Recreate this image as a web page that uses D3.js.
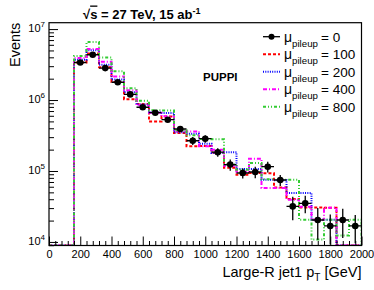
<!DOCTYPE html>
<html><head><meta charset="utf-8">
<script src="https://cdn.jsdelivr.net/npm/d3@7"></script>
<style>
body{margin:0;background:#fff}
svg{display:block}
text{font-family:"Liberation Sans",Arial,Helvetica,sans-serif;fill:#000}
</style>
</head><body>
<svg id="chart" width="374" height="290"></svg>
<script>
// ---------------- data ----------------
const binWidth = 80;
const binCenters = [200,280,360,440,520,600,680,760,840,920,1000,1080,1160,1240,1320,1400,1480,1560,1640,1720,1800,1880,1960];
const mu0    = [3.38e6,4.35e6,2.82e6,1.78e6,1.20e6,7.92e5,6.63e5,5.28e5,3.91e5,2.67e5,2.85e5,1.84e5,1.23e5,9.37e4,9.68e4,1.15e5,7.47e4,3.17e4,3.50e4,2.04e4,1.68e4,2.04e4,1.68e4];
const mu0Err = [1.0e5,1.2e5,8e4,6e4,5e4,4e4,4e4,3.5e4,3.5e4,3.5e4,3.5e4,2.5e4,2.2e4,1.5e4,1.8e4,2.0e4,1.3e4,1.15e4,9.7e3,9.7e3,7.6e3,9e3,7.2e3];
const mu100  = [3.39e6,4.52e6,2.90e6,1.79e6,1.03e6,8.79e5,4.98e5,5.86e5,3.43e5,2.23e5,2.25e5,1.81e5,1.11e5,8.87e4,9.37e4,9.31e4,5.87e4,4.04e4,3.07e4,3.07e4,3.04e4,0,0];
const mu200  = [3.70e6,5.03e6,3.14e6,1.95e6,1.29e6,8.65e5,6.73e5,6.56e5,3.52e5,3.35e5,2.43e5,1.79e5,1.84e5,1.07e5,1.07e5,7.54e4,7.42e4,4.90e4,4.90e4,2.06e4,2.06e4,0,0];
const mu400  = [3.91e6,5.23e6,3.46e6,2.15e6,1.37e6,8.45e5,6.63e5,5.92e5,3.64e5,3.61e5,2.23e5,2.00e5,1.19e5,9.77e4,1.49e5,5.76e4,5.76e4,3.94e4,3.14e4,2.06e4,3.04e4,0,0];
const mu800  = [4.17e6,6.56e6,3.98e6,2.55e6,1.47e6,9.77e5,7.18e5,7.11e5,3.76e5,3.19e5,2.82e5,2.81e5,1.23e5,1.04e5,1.30e5,7.67e4,7.54e4,7.54e4,2.06e4,1.08e4,2.06e4,1.23e4,2.06e4];
const legendValues = ["0","100","200","400","800"];
const xTicks = [0,200,400,600,800,1000,1200,1400,1600,1800,2000];
const yTicks = [1e4,1e5,1e6,1e7];

// ---------------- layout ----------------
const svg = d3.select("#chart");
const L = 49, R = 361.5, T = 22.7, B = 245.5;
const x = d3.scaleLinear().domain([0,2000]).range([L,R]);
const y = d3.scaleLog().domain([Math.pow(10,3.95), Math.pow(10,7.09)]).range([B,T]);
const [ymin, ymax] = y.domain();
const yc = v => (v <= ymin ? B : Math.max(T, y(v)));

const defs = svg.append("defs");
defs.append("clipPath").attr("id","clip").append("rect")
  .attr("x",L).attr("y",T).attr("width",R-L).attr("height",B-T);

const styles = [
  {data: mu100, color:"#ff0000", dash:"3,2"},
  {data: mu200, color:"#0000ff", dash:"1,1.3"},
  {data: mu400, color:"#ff00ff", dash:"4,2,1,2"},
  {data: mu800, color:"#33cc33", dash:"3,2,1,2,1,2"}
];

// histogram step paths
const g = svg.append("g").attr("clip-path","url(#clip)");
function stepPath(vals){
  const p = d3.path();
  p.moveTo(x(0), B);
  const first = binCenters[0]-binWidth/2;
  p.lineTo(x(first), B);
  vals.forEach((v,i)=>{
    const lo = binCenters[i]-binWidth/2, hi = binCenters[i]+binWidth/2;
    p.lineTo(x(lo), yc(v));
    p.lineTo(x(hi), yc(v));
  });
  p.lineTo(x(binCenters[binCenters.length-1]+binWidth/2), B);
  return p.toString();
}
styles.forEach(s=>{
  g.append("path").attr("d", stepPath(s.data))
    .attr("fill","none").attr("stroke", s.color)
    .attr("stroke-width",2).attr("stroke-dasharray", s.dash);
});

// black points with error bars
const pts = g.append("g");
binCenters.forEach((c,i)=>{
  const v = mu0[i], e = mu0Err[i];
  pts.append("line").attr("x1",x(c-binWidth/2)).attr("x2",x(c+binWidth/2))
    .attr("y1",y(v)).attr("y2",y(v)).attr("stroke","#000").attr("stroke-width",1.3);
  pts.append("line").attr("x1",x(c)).attr("x2",x(c))
    .attr("y1",yc(v+e)).attr("y2",yc(v-e)).attr("stroke","#000").attr("stroke-width",1.3);
  pts.append("circle").attr("cx",x(c)).attr("cy",y(v)).attr("r",3.3).attr("fill","#000");
});

// axes
const xMinor = d3.range(0,2001,40).filter(v=>v%200!==0);
svg.append("g").attr("transform",`translate(0,${B})`)
  .call(d3.axisBottom(x).tickValues(xMinor).tickSizeInner(-4.5).tickSizeOuter(0).tickFormat(""))
  .call(a=>a.select(".domain").remove());
const xAx = svg.append("g").attr("transform",`translate(0,${B})`)
  .call(d3.axisBottom(x).tickValues(xTicks).tickSizeInner(-9).tickSizeOuter(0).tickPadding(4.5).tickFormat(d3.format("d")));
xAx.select(".domain").remove();
xAx.selectAll("text").attr("font-size",11).style("font-family",'"Liberation Sans",Arial,sans-serif');

const yMinor = [];
for (let e=3;e<=6;e++) for (let k=2;k<=9;k++){ const v=k*Math.pow(10,e); if(v>=ymin && v<=ymax) yMinor.push(v); }
svg.append("g").attr("transform",`translate(${L},0)`)
  .call(d3.axisLeft(y).tickValues(yMinor).tickSizeInner(-5).tickSizeOuter(0).tickFormat(""))
  .call(a=>a.select(".domain").remove());
const yAx = svg.append("g").attr("transform",`translate(${L},0)`)
  .call(d3.axisLeft(y).tickValues(yTicks).tickSizeInner(-9).tickSizeOuter(0).tickPadding(4).tickFormat(""));
yAx.select(".domain").remove();
yAx.selectAll(".tick text").each(function(d){
  const t = d3.select(this).attr("font-size",11).attr("dy","0.2em")
    .style("font-family",'"Liberation Sans",Arial,sans-serif');
  t.append("tspan").text("10");
  t.append("tspan").attr("font-size",8).attr("dy","-0.6em").text(Math.round(Math.log10(d)));
});

// frame
svg.append("rect").attr("x",L).attr("y",T).attr("width",R-L).attr("height",B-T)
  .attr("fill","none").attr("stroke","#000").attr("stroke-width",1.2);

// titles
svg.append("text").attr("x",R).attr("y",276.5).attr("text-anchor","end").attr("font-size",14.5)
  .call(t=>{ t.append("tspan").text("Large-R jet1 p");
             t.append("tspan").attr("font-size",10).attr("dy",4).text("T");
             t.append("tspan").attr("dy",-4).text(" [GeV]"); });
svg.append("text").attr("transform",`translate(19.5,${T}) rotate(-90)`).attr("text-anchor","end")
  .attr("font-size",14.5).text("Events");

const title = svg.append("text").attr("x",83).attr("y",18.5).attr("font-size",13).attr("font-weight","bold");
title.append("tspan").text("√");
title.append("tspan").style("text-decoration","overline").text("s");
title.append("tspan").text(" = 27 TeV, 15 ab");
title.append("tspan").attr("font-size",9).attr("dy",-5).text("-1");

svg.append("text").attr("x",203).attr("y",81).attr("font-size",11.5).attr("font-weight","bold").text("PUPPI");

// legend
const leg = svg.append("g");
const legStyles = [{color:"#000",dash:null}].concat(styles);
legendValues.forEach((lab,i)=>{
  const by = 41.7 + i*17.5, ly = by-5;
  const s = legStyles[i];
  leg.append("line").attr("x1",263).attr("x2",280).attr("y1",ly).attr("y2",ly)
    .attr("stroke",s.color).attr("stroke-width", i===0?1.3:2).attr("stroke-dasharray",s.dash);
  if(i===0) leg.append("circle").attr("cx",271.5).attr("cy",ly).attr("r",3).attr("fill","#000");
  const t = leg.append("text").attr("x",284).attr("y",by).attr("font-size",14);
  t.append("tspan").text("μ");
  t.append("tspan").attr("font-size",9.7).attr("dy",5).text("pileup");
  leg.append("text").attr("x",321).attr("y",by).attr("font-size",13.5).text("= "+lab);
});
</script>
</body></html>
